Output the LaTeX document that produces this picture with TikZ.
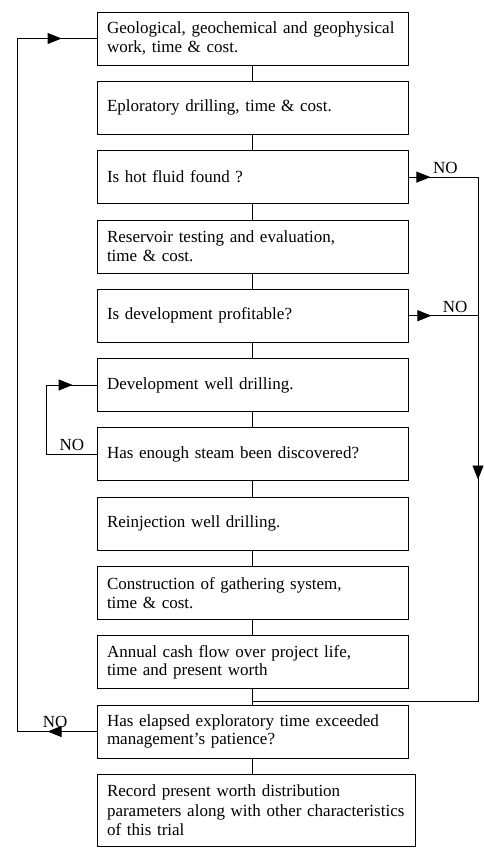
\documentclass[tikz,border=0pt]{standalone}
\usepackage{fontspec}
\setmainfont{Liberation Serif}
\usetikzlibrary{arrows.meta, positioning, calc, decorations.markings}

\begin{document}
\begin{tikzpicture}[x=1pt, y=1pt, node distance=15.5pt,
    stage/.style={rectangle, draw, line width=0.8pt, minimum height=53pt, text width=291pt, inner xsep=10pt, align=left, font=\fontsize{17}{18.5}\selectfont},
    link/.style={line width=0.8pt},
    tipat/.style={postaction={decorate, decoration={markings, mark=at position #1 with {\arrow{Triangle[length=14pt, width=11pt]}}}}},
    nolabel/.style={above, inner sep=3pt, font=\fontsize{17}{18.5}\selectfont}]
    \useasboundingbox (0,0) rectangle (483,-851);

    % Nodes
    \node [stage] (geo) at (252.5,-38.5) {Geological, geochemical and geophysical\\ work, time \& cost.};
    \node [stage, below=of geo] (explore) {Eploratory drilling, time \& cost.};
    \node [stage, below=of explore] (hotfluid) {Is hot fluid found ?};
    \node [stage, below=of hotfluid] (testing) {Reservoir testing and evaluation,\\ time \& cost.};
    \node [stage, below=of testing] (profit) {Is development profitable?};
    \node [stage, below=of profit] (devwell) {Development well drilling.};
    \node [stage, below=of devwell] (steam) {Has enough steam been discovered?};
    \node [stage, below=of steam] (reinject) {Reinjection well drilling.};
    \node [stage, below=of reinject] (gather) {Construction of gathering system,\\ time \& cost.};
    \node [stage, below=of gather] (cashflow) {Annual cash flow over project life,\\ time and present worth};
    \node [stage, below=of cashflow] (patience) {Has elapsed exploratory time exceeded\\ management's patience?};
    \node [stage, below=of patience, xshift=3.5pt, text width=298pt, minimum height=72pt, font=\fontsize{17}{19.5}\selectfont] (record) {Record present worth distribution\\ parameters along with other characteristics\\ of this trial};

    % Side lines
    \coordinate (rline) at (478,0);
    \coordinate (lline) at (17,0);
    \coordinate (iline) at (46,0);
    \coordinate (join) at ($(patience.north)+(0,3)$);

    % Edges
    \draw [link] (geo) -- (explore);
    \draw [link] (explore) -- (hotfluid);
    \draw [link] (hotfluid) -- (testing);
    \draw [link] (testing) -- (profit);
    \draw [link] (profit) -- (devwell);
    \draw [link] (devwell) -- (steam);
    \draw [link] (steam) -- (reinject);
    \draw [link] (reinject) -- (gather);
    \draw [link] (gather) -- (cashflow);
    \draw [link] (cashflow) -- (patience);
    \draw [link] (patience.south) -- (patience.south |- record.north);

    \draw [link, tipat=22pt, tipat=372pt] (hotfluid.east) -- node [nolabel, pos=0.53] {NO} (hotfluid.east -| rline) -- (join -| rline) -- (join);
    \draw [link, tipat=23pt] (profit.east) -- node [nolabel, pos=0.67] {NO} (profit.east -| rline);
    \draw [link, tipat=-24pt] (steam.west) -- node [nolabel, pos=0.49] {NO} (steam.west -| iline) |- (devwell.west);
    \draw [link, tipat=49pt, tipat=-35pt] (patience.west) -- node [nolabel, pos=0.52] {NO} (patience.west -| lline) |- (geo.west);
\end{tikzpicture}
\end{document}
